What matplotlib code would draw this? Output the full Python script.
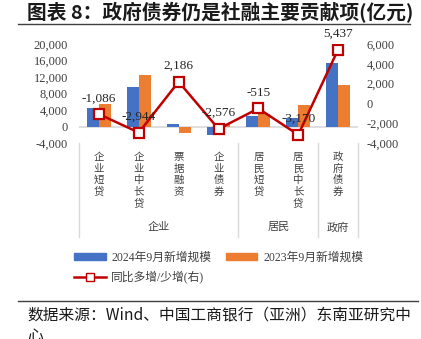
import matplotlib
matplotlib.use("Agg")
import matplotlib.pyplot as plt
import matplotlib.transforms as mtransforms
from matplotlib.lines import Line2D
from matplotlib.patches import Patch

plt.rcParams['font.family'] = ['Liberation Serif', 'Noto Sans CJK SC']
plt.rcParams['axes.unicode_minus'] = False

# 社融分项：当月新增规模（亿元）
items = ['企业短贷', '企业中长贷', '票据融资', '企业债券', '居民短贷', '居民中长贷', '政府债券']
groups = ['企业', '居民', '政府']
group_sizes = [4, 2, 1]
new_2024 = [4414, 9556, 700, -2000, 2500, 2100, 15400]
new_2023 = [5500, 12500, -1486, 576, 3015, 5270, 9963]
yoy_diff = [-1086, -2944, 2186, -2576, -515, -3170, 5437]

blue = '#4472C4'
orange = '#ED7D31'
red = '#C00000'
cjk = ['Noto Sans CJK SC', 'DejaVu Sans']

W, H = 421, 339
fig = plt.figure(figsize=(W / 100, H / 100), dpi=100)

def fx(px):
    return px / W

def fy(py):
    return 1 - py / H

ax = fig.add_axes([fx(79), fy(143), fx(358) - fx(79), fy(44) - fy(143)])
ax2 = ax.twinx()

x = list(range(len(items)))
bw = 0.3
ax.bar([i - bw / 2 for i in x], new_2024, width=bw, color=blue, zorder=2)
ax.bar([i + bw / 2 for i in x], new_2023, width=bw, color=orange, zorder=2)
ax.axhline(0, color='#d9d9d9', lw=1.2, zorder=1)

ax.set_xlim(-0.5, len(items) - 0.5)
ax.set_ylim(-4000, 20000)
ax.set_yticks(range(-4000, 20001, 4000))
ax.set_yticklabels([f'{v:,}' for v in range(-4000, 20001, 4000)])
ax2.set_ylim(-4000, 6000)
ax2.set_yticks(range(-4000, 6001, 2000))
ax2.set_yticklabels([f'{v:,}' for v in range(-4000, 6001, 2000)])

for a in (ax, ax2):
    for s in a.spines.values():
        s.set_visible(False)
    a.tick_params(length=0, labelsize=9, colors='#404040')
ax.set_xticks([])
ax.tick_params(axis='y', pad=8)
ax2.tick_params(axis='y', pad=6)

ax2.plot(x, yoy_diff, color=red, lw=1.8, marker='s', markersize=7,
         markerfacecolor='white', markeredgecolor=red, markeredgewidth=1.6, zorder=3)
for i, v in zip(x, yoy_diff):
    ax2.annotate(f'{v:,}', (i, v), xytext=(0, 7), textcoords='offset points',
                 ha='center', va='bottom', fontsize=9.5, color='#262626')

# 分类轴：竖排标签与分组分隔线
trans = mtransforms.blended_transform_factory(ax.transData, ax.transAxes)
for i, name in enumerate(items):
    ax.text(i, -0.09, '\n'.join(name), transform=trans, ha='center', va='top',
            fontsize=7.5, family=cjk, color='#404040', linespacing=1.2)
bounds = [-0.5]
for n in group_sizes:
    bounds.append(bounds[-1] + n)
for b in bounds:
    ax.plot([b, b], [0, -0.95], transform=trans, color='#d9d9d9', lw=1, clip_on=False)
for g, lo, hi in zip(groups, bounds[:-1], bounds[1:]):
    ax.text((lo + hi) / 2, -0.85, g, transform=trans,
            ha='center', va='center', fontsize=8, family=cjk, color='#404040')

# 图例
handles = [Patch(color=blue, label='2024年9月新增规模'),
           Line2D([], [], color=red, lw=1.8, marker='s', markersize=6,
                  markerfacecolor='white', markeredgecolor=red, label='同比多增/少增(右)'),
           Patch(color=orange, label='2023年9月新增规模')]
fig.legend(handles=handles, ncol=2, loc='upper left', bbox_to_anchor=(fx(63), fy(241)),
           frameon=False, fontsize=8.5, handlelength=2.7, handleheight=0.6,
           columnspacing=1.2, labelspacing=0.6, handletextpad=0.5,
           labelcolor='#404040')

# 标题与来源
fig.text(fx(27), fy(13), '图表 8：政府债券仍是社融主要贡献项(亿元)', family=cjk,
         fontsize=14.2, fontweight='bold', ha='left', va='center', color='#1a1a1a')
fig.add_artist(Line2D([fx(18), fx(410)], [fy(24), fy(24)], color='#404040', lw=1))
fig.add_artist(Line2D([fx(18), fx(418)], [fy(301), fy(301)], color='#404040', lw=1))
fig.text(fx(27), fy(306), '数据来源：Wind、中国工商银行（亚洲）东南亚研究中\n心', family=cjk,
         fontsize=11.3, ha='left', va='top', color='#1a1a1a', linespacing=1.4)

fig.savefig('out.png', dpi=100)
